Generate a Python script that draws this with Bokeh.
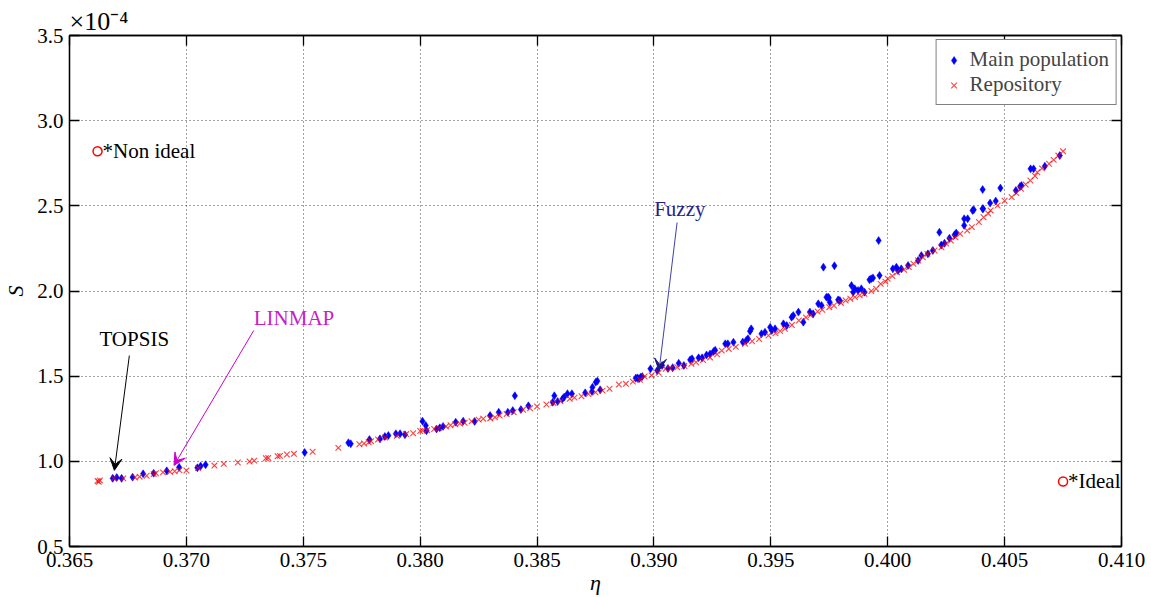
from bokeh.plotting import figure
from bokeh.models import (Range1d, LinearAxis, FixedTicker, Label, Arrow, VeeHead, Title,
                          Legend, LegendItem, NumeralTickFormatter, CustomJSTickFormatter)
from bokeh.embed import file_html
from bokeh.resources import INLINE

# ---------------- data (S in units of 1e-4) ----------------
rep_eta = [0.3662, 0.36625, 0.3663, 0.3669, 0.3673, 0.3678, 0.3680, 0.3683, 0.3686, 0.3687,
           0.3690, 0.3693, 0.3695, 0.3697, 0.3700, 0.3705, 0.3712, 0.3716, 0.3722, 0.3727,
           0.3729, 0.3734, 0.3735, 0.3739, 0.3740, 0.3743, 0.3746, 0.3754, 0.3765, 0.3774,
           0.3776, 0.3778, 0.3779, 0.3782, 0.3785, 0.3790, 0.3794, 0.3797,
           0.3800, 0.3801, 0.3803, 0.3806, 0.3808, 0.3811, 0.3813, 0.3815, 0.3817, 0.3819,
           0.3822, 0.3825, 0.3827, 0.3830, 0.3832, 0.3834, 0.3837, 0.3840, 0.3844, 0.3847,
           0.3850, 0.3854, 0.3857, 0.3860, 0.3864, 0.3866, 0.3869, 0.3872, 0.3875, 0.3878,
           0.3881, 0.3885, 0.3888, 0.3891, 0.3894, 0.3896, 0.3899, 0.3902, 0.3905, 0.3907,
           0.3910, 0.3913, 0.3916, 0.3918, 0.3921, 0.3924, 0.3927, 0.3929, 0.3932, 0.3935,
           0.3939, 0.3942, 0.3945, 0.3949, 0.3952, 0.3954, 0.3956, 0.3959, 0.3962, 0.3965,
           0.3967, 0.3970, 0.3972, 0.3975, 0.3977, 0.3980, 0.3982, 0.3984, 0.3986, 0.3988,
           0.3990, 0.3993, 0.3995, 0.3997, 0.3999, 0.4000, 0.4002, 0.4004, 0.4007, 0.4009,
           0.4011, 0.4013, 0.4015, 0.4017, 0.4020, 0.4023, 0.4025, 0.4027, 0.4029, 0.4031,
           0.4034, 0.4036, 0.4039, 0.4041, 0.4043, 0.4044, 0.4047, 0.4050, 0.4053, 0.4055,
           0.4057, 0.4059, 0.4061, 0.4063, 0.4064, 0.4066, 0.4069, 0.4071, 0.4073, 0.4075]
rep_S = [0.885, 0.880, 0.888, 0.900, 0.900, 0.905, 0.910, 0.915, 0.925, 0.930,
         0.935, 0.938, 0.942, 0.948, 0.946, 0.960, 0.975, 0.985, 0.993, 0.999,
         1.004, 1.018, 1.020, 1.030, 1.032, 1.040, 1.044, 1.056, 1.079, 1.100,
         1.105, 1.112, 1.118, 1.128, 1.140, 1.150, 1.160, 1.165,
         1.178, 1.181, 1.183, 1.190, 1.195, 1.205, 1.212, 1.218, 1.222, 1.226,
         1.235, 1.245, 1.250, 1.252, 1.258, 1.269, 1.278, 1.288, 1.303, 1.312,
         1.322, 1.334, 1.342, 1.352, 1.367, 1.374, 1.382, 1.395, 1.405, 1.415,
         1.426, 1.451, 1.455, 1.468, 1.479, 1.498, 1.505, 1.520, 1.543, 1.545,
         1.552, 1.560, 1.572, 1.582, 1.595, 1.610, 1.628, 1.650, 1.660, 1.672,
         1.690, 1.705, 1.718, 1.739, 1.752, 1.765, 1.778, 1.800, 1.827, 1.845,
         1.858, 1.880, 1.890, 1.905, 1.915, 1.930, 1.944, 1.955, 1.964, 1.975,
         1.983, 2.000, 2.013, 2.042, 2.055, 2.072, 2.088, 2.110, 2.125, 2.140,
         2.160, 2.179, 2.198, 2.218, 2.238, 2.257, 2.278, 2.296, 2.315, 2.336,
         2.355, 2.375, 2.405, 2.433, 2.455, 2.473, 2.502, 2.530, 2.551, 2.575,
         2.600, 2.625, 2.649, 2.675, 2.697, 2.720, 2.747, 2.770, 2.795, 2.820]

main_eta = [0.36685, 0.36702, 0.36723, 0.3677, 0.36815, 0.3686, 0.36916, 0.36969, 0.37047, 0.37061,
            0.37082, 0.37506, 0.37693, 0.37703, 0.37783, 0.37828, 0.37849, 0.37864, 0.37896, 0.37914,
            0.37935, 0.3801, 0.38024, 0.38027, 0.3807, 0.38084, 0.38098, 0.38152, 0.38184, 0.38233,
            0.38299, 0.38336, 0.38375, 0.38396, 0.38405, 0.38431, 0.38463, 0.38567, 0.38588, 0.38574,
            0.38609, 0.38616, 0.3863, 0.38649, 0.38706, 0.38737, 0.38751, 0.38758, 0.38735, 0.3877,
            0.38922, 0.38936, 0.38929, 0.38943, 0.3895, 0.38985, 0.39014, 0.39035, 0.3906, 0.3908,
            0.39106, 0.39128, 0.39155, 0.39163, 0.39191, 0.39206, 0.39225, 0.3924, 0.39262, 0.39255,
            0.39305, 0.39316, 0.3934, 0.39411, 0.39416, 0.3938, 0.39395, 0.39402, 0.3946, 0.39475,
            0.39497, 0.39504, 0.39518, 0.39554, 0.39568, 0.39589, 0.39596, 0.39618, 0.39639, 0.39667,
            0.39681, 0.39703, 0.39717, 0.39745, 0.39752, 0.39725, 0.39772, 0.39738, 0.39748, 0.39788,
            0.39795, 0.39845, 0.39859, 0.39852, 0.39873, 0.39887, 0.39901, 0.39922, 0.39929, 0.39937,
            0.39965, 0.39961, 0.40022, 0.40037, 0.40044, 0.40058, 0.40087, 0.4013, 0.40144, 0.40172,
            0.40193, 0.40221, 0.40229, 0.40243, 0.40264, 0.40286, 0.40293, 0.40327, 0.40342, 0.40327,
            0.40363, 0.40406, 0.40406, 0.40482, 0.40368, 0.40408, 0.40438, 0.40462, 0.40548, 0.40566,
            0.40572, 0.40611, 0.40624, 0.40672, 0.40736]
main_S = [0.900, 0.905, 0.900, 0.907, 0.927, 0.930, 0.944, 0.965, 0.962, 0.972,
          0.980, 1.052, 1.109, 1.103, 1.128, 1.132, 1.146, 1.152, 1.162, 1.162,
          1.156, 1.236, 1.210, 1.180, 1.190, 1.197, 1.205, 1.230, 1.236, 1.234,
          1.269, 1.288, 1.288, 1.298, 1.385, 1.304, 1.326, 1.347, 1.351, 1.385,
          1.367, 1.377, 1.397, 1.397, 1.402, 1.435, 1.465, 1.471, 1.410, 1.420,
          1.488, 1.485, 1.490, 1.494, 1.498, 1.543, 1.533, 1.563, 1.545, 1.550,
          1.576, 1.563, 1.596, 1.602, 1.608, 1.608, 1.625, 1.630, 1.652, 1.645,
          1.690, 1.690, 1.699, 1.764, 1.778, 1.700, 1.710, 1.720, 1.749, 1.758,
          1.787, 1.768, 1.778, 1.807, 1.797, 1.846, 1.856, 1.876, 1.817, 1.876,
          1.866, 1.925, 1.915, 1.964, 1.934, 2.140, 2.148, 1.964, 1.960, 1.948,
          1.944, 2.032, 2.013, 1.993, 2.003, 2.013, 1.993, 2.066, 2.072, 2.077,
          2.091, 2.296, 2.130, 2.140, 2.120, 2.130, 2.150, 2.179, 2.208, 2.218,
          2.238, 2.345, 2.270, 2.280, 2.310, 2.330, 2.340, 2.424, 2.424, 2.385,
          2.473, 2.483, 2.596, 2.604, 2.477, 2.483, 2.516, 2.528, 2.590, 2.613,
          2.619, 2.717, 2.717, 2.733, 2.795]

ref_eta = [0.3662, 0.4075]
ref_S = [2.82, 0.882]
ref_labels = ["*Non ideal", "*Ideal"]

x_ticks = [0.365, 0.370, 0.375, 0.380, 0.385, 0.390, 0.395, 0.400, 0.405, 0.410]
y_ticks = [0.5, 1.0, 1.5, 2.0, 2.5, 3.0, 3.5]

FONT = "Liberation Serif"
FS = "21px"

p = figure(width=1151, height=597, output_backend="svg", toolbar_location=None,
           x_range=Range1d(0.365, 0.410), y_range=Range1d(0.5, 3.5),
           min_border_left=65, min_border_right=30, min_border_top=35, min_border_bottom=51,
           background_fill_color="white", border_fill_color="white")
p.outline_line_color = "black"
p.outline_line_width = 1.3

p.xaxis.ticker = FixedTicker(ticks=x_ticks)
p.yaxis.ticker = FixedTicker(ticks=y_ticks)
p.xaxis.formatter = NumeralTickFormatter(format="0.000")
p.yaxis.formatter = NumeralTickFormatter(format="0.0")
for ax in (p.xaxis, p.yaxis):
    ax.major_tick_in = 10
    ax.major_tick_out = 0
    ax.minor_tick_in = 0
    ax.minor_tick_out = 0
    ax.axis_line_width = 1.3
    ax.major_tick_line_width = 1.3
    ax.major_label_text_font = FONT
    ax.major_label_text_font_size = FS
    ax.major_label_text_color = "black"
    ax.axis_label_text_font = FONT
    ax.axis_label_text_font_size = "22px"
    ax.axis_label_text_font_style = "italic"
    ax.axis_label_text_color = "black"
p.xaxis.major_label_standoff = 6
p.yaxis.major_label_standoff = 6
p.xaxis.axis_label = "η"
p.yaxis.axis_label = "S"
p.xaxis.axis_label_standoff = 0
p.yaxis.axis_label_standoff = 6

# ticks on the top and right sides (box style)
blank = CustomJSTickFormatter(code="return ''")
top = LinearAxis(ticker=FixedTicker(ticks=x_ticks), formatter=blank,
                 major_tick_in=10, major_tick_out=0, minor_tick_in=0, minor_tick_out=0,
                 axis_line_width=1.3, major_tick_line_width=1.3, major_label_standoff=0,
                 major_label_text_font_size="1px")
right = LinearAxis(ticker=FixedTicker(ticks=y_ticks), formatter=blank,
                   major_tick_in=10, major_tick_out=0, minor_tick_in=0, minor_tick_out=0,
                   axis_line_width=1.3, major_tick_line_width=1.3, major_label_standoff=0,
                   major_label_text_font_size="1px")
p.add_layout(top, "above")
p.add_layout(right, "right")

# exponent of the S axis
p.add_layout(Title(text="×10⁻⁴", align="left", text_font=FONT, text_font_size="26px",
                   text_font_style="normal", text_color="black", standoff=0), "above")

p.xgrid.ticker = FixedTicker(ticks=x_ticks)
p.ygrid.ticker = FixedTicker(ticks=y_ticks)
for g in (p.xgrid[0], p.ygrid[0]):
    g.grid_line_color = "#333333"
    g.grid_line_dash = "1 3"
    g.grid_line_width = 1
    g.grid_line_alpha = 0.9

blue = p.scatter(main_eta, main_S, marker="diamond", size=8, fill_color="#0000ff",
                 line_color="#0000ff", line_width=0.5)
red = p.scatter(rep_eta, rep_S, marker="x", size=8, line_color="#ff0000",
                line_alpha=0.75, line_width=1.1)

p.scatter(ref_eta, ref_S, marker="circle", size=9, fill_color=None,
          line_color="#ff0000", line_width=1.5)
for ex, es, lab in zip(ref_eta, ref_S, ref_labels):
    p.add_layout(Label(x=ex, y=es, text=lab, x_offset=5, text_baseline="middle",
                       text_font=FONT, text_font_size=FS, text_color="black"))

# annotations
p.add_layout(Label(x=0.36628, y=1.721, text="TOPSIS", text_baseline="middle",
                   text_font=FONT, text_font_size=FS, text_color="black"))
p.add_layout(Arrow(x_start=0.36756, y_start=1.621, x_end=0.36692, y_end=0.947,
                   line_color="black", line_width=1,
                   end=VeeHead(size=12, fill_color="black", line_color="black")))

p.add_layout(Label(x=0.37288, y=1.839, text="LINMAP", text_baseline="middle",
                   text_font=FONT, text_font_size=FS, text_color="#c81ec8"))
p.add_layout(Arrow(x_start=0.37288, y_start=1.768, x_end=0.36947, y_end=0.976,
                   line_color="#cc00cc", line_width=1,
                   end=VeeHead(size=12, fill_color="#cc00cc", line_color="#cc00cc")))

p.add_layout(Label(x=0.39001, y=2.484, text="Fuzzy", text_baseline="middle",
                   text_font=FONT, text_font_size=FS, text_color="#1e1e8c"))
p.add_layout(Arrow(x_start=0.39099, y_start=2.402, x_end=0.39022, y_end=1.533,
                   line_color="#4040a8", line_width=1,
                   end=VeeHead(size=12, fill_color="#1a1a80", line_color="#1a1a80")))

legend = Legend(items=[LegendItem(label="Main population", renderers=[blue]),
                       LegendItem(label="Repository", renderers=[red])],
                location="top_right", margin=4, padding=7, spacing=0,
                glyph_width=20, glyph_height=20, label_height=21, label_standoff=6,
                label_text_font=FONT, label_text_font_size=FS,
                border_line_color="black", border_line_width=1,
                background_fill_color="white", background_fill_alpha=1)
p.add_layout(legend)

open("out.html", "w").write(file_html(p, INLINE))
